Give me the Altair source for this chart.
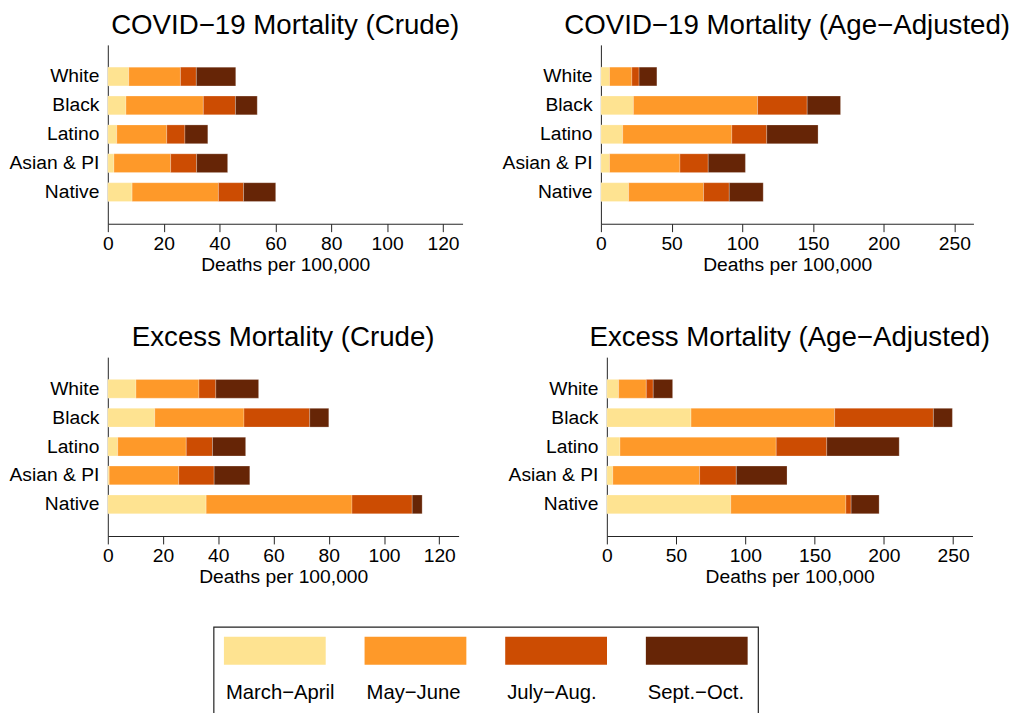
import altair as alt
import pandas as pd

races = ["White", "Black", "Latino", "Asian & PI", "Native"]
periods = ["March−April", "May−June", "July−Aug.", "Sept.−Oct."]
colors = ["#fee391", "#fe9929", "#cc4c02", "#662506"]

# rows = races, columns = periods (deaths per 100,000)
covid_crude = [
    [7.5, 18.5, 5.7, 14.1],
    [6.5, 27.7, 11.5, 7.8],
    [3.2, 17.9, 6.5, 8.2],
    [2.2, 20.3, 9.3, 11.1],
    [8.7, 30.9, 9.0, 11.5],
]
covid_adj = [
    [6.1, 15.8, 5.1, 12.6],
    [23.0, 87.8, 35.1, 23.6],
    [15.4, 77.2, 24.7, 36.3],
    [6.1, 49.8, 20.0, 26.3],
    [19.6, 53.0, 18.2, 24.0],
]
excess_crude = [
    [10.2, 22.8, 6.1, 15.5],
    [17.0, 32.3, 23.8, 6.9],
    [3.6, 24.8, 9.5, 12.0],
    [0.5, 25.2, 12.8, 12.9],
    [35.6, 52.8, 21.8, 3.6],
]
excess_adj = [
    [8.5, 20.0, 5.0, 14.0],
    [60.8, 103.7, 71.3, 13.7],
    [9.5, 112.8, 36.5, 52.3],
    [4.3, 62.7, 26.5, 36.6],
    [89.5, 83.1, 3.8, 20.2],
]

crude_ticks = [0, 20, 40, 60, 80, 100, 120]
adj_ticks = [0, 50, 100, 150, 200, 250]

FONT = "Liberation Sans"
PANEL_H = 181


def panel(values, title, xmax, ticks, width, extend_below=0):
    rows = []
    for i, r in enumerate(races):
        for j, p in enumerate(periods):
            rows.append({"race": r, "period": p, "ord": j, "value": values[i][j]})
    df = pd.DataFrame(rows)
    bars = (
        alt.Chart(df)
        .mark_bar(stroke="white", strokeWidth=0.4, strokeOpacity=0.6)
        .encode(
            x=alt.X(
                "value:Q", stack="zero", title="Deaths per 100,000",
                scale=alt.Scale(domain=[0, xmax], nice=False, zero=True),
                axis=alt.Axis(values=ticks, labelFlush=False, grid=False, tickSize=8,
                              labelPadding=3, titlePadding=3, format="d"),
            ),
            y=alt.Y(
                "race:N", sort=races, title=None,
                scale=alt.Scale(paddingInner=0.35, paddingOuter=0.77),
                axis=alt.Axis(ticks=False, labelPadding=9, grid=False),
            ),
            color=alt.Color("period:N", sort=periods,
                            scale=alt.Scale(domain=periods, range=colors), legend=None),
            order=alt.Order("ord:Q", sort="ascending"),
        )
    )
    layers = [bars]
    if extend_below:
        # invisible layout helper that reserves space below the panel
        layers.append(
            alt.Chart(pd.DataFrame({"a": [0]}))
            .mark_rule(strokeOpacity=0)
            .encode(x=alt.value(0), y=alt.value(0), y2=alt.value(PANEL_H + extend_below))
        )
    return alt.layer(
        *layers,
        title=alt.TitleParams(
            title, fontSize=28, font=FONT, fontWeight="normal", color="black",
            anchor="middle", frame="group", offset=-17, baseline="alphabetic",
        ),
    ).properties(width=width, height=PANEL_H)


p1 = panel(covid_crude, "COVID−19 Mortality (Crude)", 127, crude_ticks, 359, extend_below=81)
p2 = panel(covid_adj, "COVID−19 Mortality (Age−Adjusted)", 263.5, adj_ticks, 377)
p3 = panel(excess_crude, "Excess Mortality (Crude)", 127, crude_ticks, 355)
p4 = panel(excess_adj, "Excess Mortality (Age−Adjusted)", 264, adj_ticks, 370)


def spacer(w, h=10, above=0):
    return (
        alt.Chart(pd.DataFrame({"a": [0]}))
        .mark_rule(strokeOpacity=0)
        .encode(x=alt.value(w / 2), y=alt.value(-above), y2=alt.value(h))
        .properties(width=w, height=h)
    )


row1 = alt.hconcat(p1, p2, spacing=39)
row2 = alt.hconcat(p3, p4, spacing=49)

leg_df = pd.DataFrame({"period": periods})
leg_x_scale = alt.Scale(paddingInner=0.2763, paddingOuter=0.0738)
swatches = alt.Chart(leg_df).mark_rect().encode(
    x=alt.X("period:N", sort=periods, axis=None, scale=leg_x_scale),
    y=alt.value(10),
    y2=alt.value(38.4),
    color=alt.Color("period:N", sort=periods,
                    scale=alt.Scale(domain=periods, range=colors), legend=None),
)
labels = alt.Chart(leg_df).mark_text(
    align="left", baseline="alphabetic", dx=2, fontSize=20.5, font=FONT, color="black"
).encode(
    x=alt.X("period:N", sort=periods, axis=None, bandPosition=0, scale=leg_x_scale),
    y=alt.value(73),
    text="period:N",
)
legend = alt.layer(swatches, labels).properties(
    width=551, height=100,
    view=alt.ViewBackground(stroke="#222222", strokeWidth=1.2),
)
row3 = alt.hconcat(spacer(106, 10, 20), legend, spacing=0)

chart = (
    alt.vconcat(row1, row2, row3, spacing=21)
    .properties(padding=0)
    .configure_view(strokeWidth=0)
    .configure_axis(
        labelFont=FONT, titleFont=FONT, labelFontSize=19.5, titleFontSize=19.5,
        labelColor="black", titleColor="black", titleFontWeight="normal",
        domainColor="#222222", tickColor="#222222", domainWidth=1, tickWidth=1,
    )
)

chart.save("out.html", embed_options={"renderer": "svg", "actions": False})
